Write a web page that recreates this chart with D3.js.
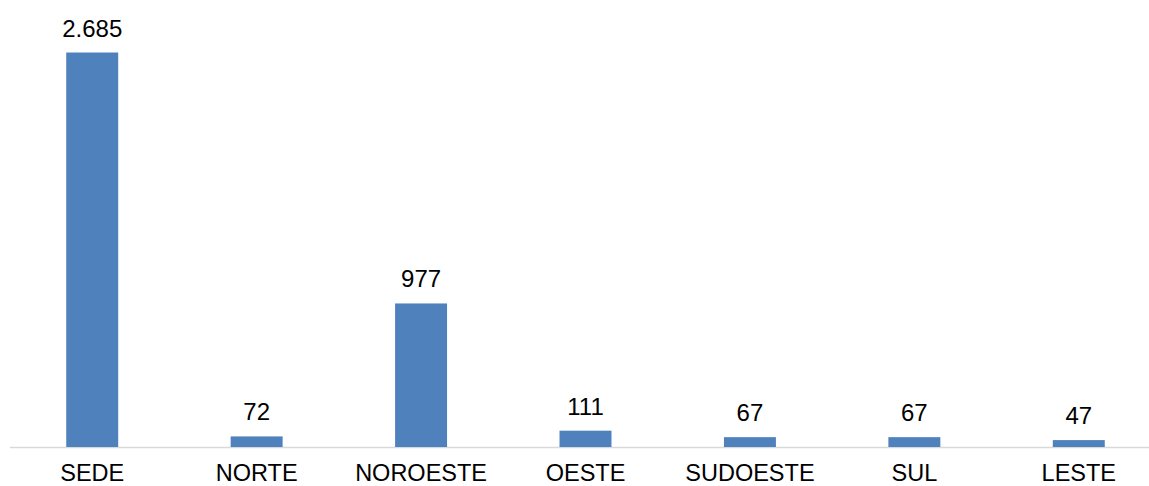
<!DOCTYPE html>
<html>
<head>
<meta charset="utf-8">
<script src="https://cdn.jsdelivr.net/npm/d3@7"></script>
<style>
  body { margin: 0; background: #fff; }
  svg { display: block; font-family: "Liberation Sans", Arial, sans-serif; }
</style>
</head>
<body>
<svg width="1149" height="486"></svg>
<script>
var regioes = ['SEDE', 'NORTE', 'NOROESTE', 'OESTE', 'SUDOESTE', 'SUL', 'LESTE'];
var valores = [2685, 72, 977, 111, 67, 67, 47];

var svg = d3.select("svg"),
    baseY = 447,
    topY = 52.5;

// pt-BR style thousands: 2.685
var br = d3.formatLocale({decimal: ",", thousands: ".", grouping: [3], currency: ["R$", ""]});
var fmt = br.format(",d");

var x = d3.scaleBand()
    .domain(regioes)
    .range([10, 1161])
    .paddingInner(0.684)
    .paddingOuter(0.342);

var y = d3.scaleLinear()
    .domain([0, 2685])
    .range([baseY, topY]);

// baseline
svg.append("line")
    .attr("x1", 10).attr("x2", 1161)
    .attr("y1", baseY + 0.5).attr("y2", baseY + 0.5)
    .attr("stroke", "#d9d9d9")
    .attr("stroke-width", 1.5);

var dados = regioes.map(function(r, i) { return {r: r, v: valores[i]}; });

svg.selectAll("rect.bar")
  .data(dados)
  .enter().append("rect")
    .attr("class", "bar")
    .attr("x", function(d) { return x(d.r); })
    .attr("width", x.bandwidth())
    .attr("y", function(d) { return y(d.v); })
    .attr("height", function(d) { return baseY - y(d.v); })
    .attr("fill", "#4f81bd");

// value labels
svg.selectAll("text.val")
  .data(dados)
  .enter().append("text")
    .attr("class", "val")
    .attr("x", function(d) { return x(d.r) + x.bandwidth() / 2; })
    .attr("y", function(d) { return y(d.v) - 16; })
    .attr("text-anchor", "middle")
    .attr("font-size", 24)
    .attr("fill", "#000")
    .text(function(d) { return fmt(d.v); });

// category labels
svg.append("g")
    .attr("transform", "translate(0," + baseY + ")")
    .call(d3.axisBottom(x).tickSize(0).tickPadding(0))
    .call(function(g) { g.select(".domain").remove(); })
    .selectAll("text")
    .attr("dy", null)
    .attr("y", 34)
    .attr("font-size", 23.5)
    .attr("font-family", "Liberation Sans, Arial, sans-serif")
    .attr("fill", "#000");
</script>
</body>
</html>
